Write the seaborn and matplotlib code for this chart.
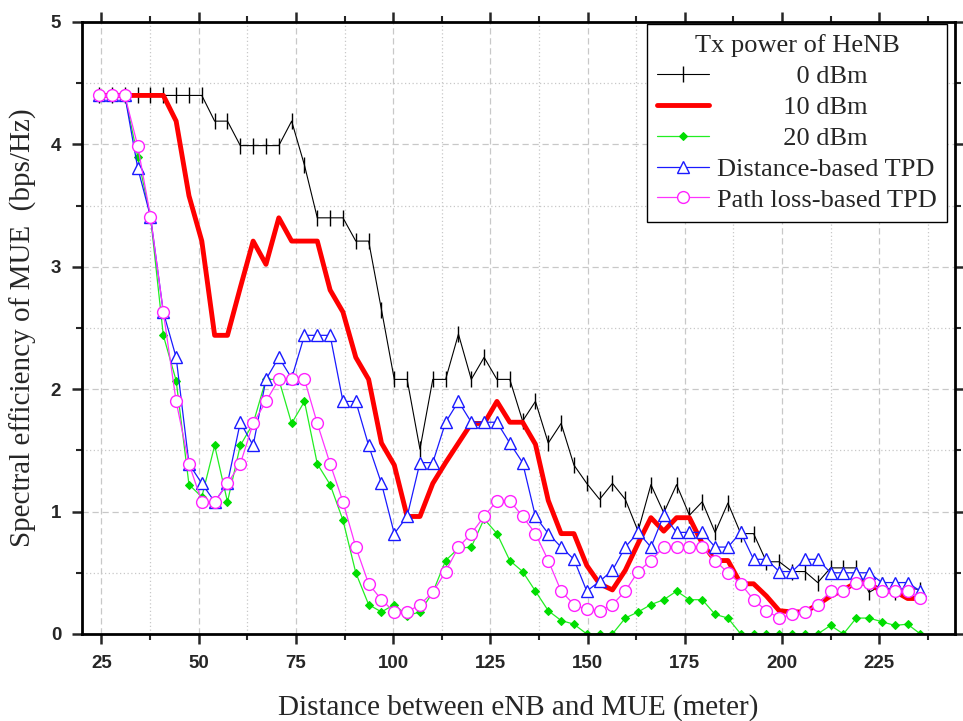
import matplotlib
matplotlib.use("Agg")
import matplotlib.pyplot as plt
import seaborn as sns
import pandas as pd
from matplotlib.ticker import MultipleLocator

distance = [24.4, 27.7, 31.0, 34.3, 37.6, 40.9, 44.2, 47.5, 50.8, 54.1,
            57.4, 60.7, 64.0, 67.3, 70.6, 73.9, 77.2, 80.5, 83.8, 87.1,
            90.4, 93.7, 97.0, 100.3, 103.6, 106.9, 110.2, 113.5, 116.8, 120.1,
            123.4, 126.7, 130.0, 133.3, 136.6, 139.9, 143.2, 146.5, 149.8, 153.1,
            156.4, 159.7, 163.0, 166.3, 169.6, 172.9, 176.2, 179.5, 182.8, 186.1,
            189.4, 192.7, 196.0, 199.3, 202.6, 205.9, 209.2, 212.5, 215.8, 219.1,
            222.4, 225.7, 229.0, 232.3, 235.6]

se_0dbm = [4.4, 4.4, 4.4, 4.4, 4.4, 4.4, 4.4, 4.4, 4.4, 4.19,
           4.19, 3.99, 3.99, 3.99, 3.99, 4.19, 3.83, 3.40, 3.40, 3.40,
           3.21, 3.21, 2.65, 2.08, 2.08, 1.51, 2.08, 2.08, 2.45, 2.08,
           2.26, 2.08, 2.08, 1.74, 1.90, 1.56, 1.72, 1.38, 1.23, 1.10,
           1.23, 1.10, 0.84, 1.22, 0.99, 1.22, 0.97, 1.08, 0.83, 1.07,
           0.82, 0.82, 0.59, 0.59, 0.51, 0.51, 0.42, 0.54, 0.54, 0.54,
           0.34, 0.40, 0.34, 0.38, 0.36]

se_10dbm = [4.4, 4.4, 4.4, 4.4, 4.4, 4.4, 4.19, 3.58, 3.21, 2.44,
            2.44, 2.83, 3.21, 3.02, 3.40, 3.21, 3.21, 3.21, 2.81, 2.63,
            2.26, 2.08, 1.56, 1.38, 0.96, 0.96, 1.23, 1.40, 1.56, 1.72,
            1.72, 1.90, 1.73, 1.73, 1.55, 1.09, 0.82, 0.82, 0.56, 0.41,
            0.36, 0.52, 0.74, 0.95, 0.84, 0.95, 0.95, 0.74, 0.60, 0.60,
            0.41, 0.41, 0.31, 0.19, 0.18, 0.18, 0.24, 0.31, 0.36, 0.42,
            0.41, 0.35, 0.35, 0.29, 0.29]

se_20dbm = [4.4, 4.4, 4.4, 3.9, 3.41, 2.44, 2.07, 1.22, 1.12, 1.54,
            1.08, 1.54, 1.72, 2.08, 2.08, 1.72, 1.90, 1.39, 1.22, 0.93,
            0.50, 0.24, 0.18, 0.24, 0.15, 0.18, 0.34, 0.60, 0.70, 0.71,
            0.94, 0.82, 0.60, 0.51, 0.35, 0.19, 0.11, 0.08, 0.0, 0.0,
            0.0, 0.13, 0.18, 0.24, 0.28, 0.35, 0.28, 0.28, 0.16, 0.13,
            0.0, 0.0, 0.0, 0.0, 0.0, 0.0, 0.0, 0.07, 0.0, 0.13,
            0.13, 0.10, 0.07, 0.08, 0.0]

se_distance_tpd = [4.4, 4.4, 4.4, 3.81, 3.41, 2.63, 2.26, 1.39, 1.23, 1.08,
                   1.23, 1.73, 1.54, 2.08, 2.26, 2.09, 2.44, 2.44, 2.44, 1.90,
                   1.90, 1.54, 1.23, 0.82, 0.96, 1.40, 1.40, 1.73, 1.90, 1.73,
                   1.73, 1.73, 1.56, 1.40, 0.96, 0.82, 0.71, 0.61, 0.35, 0.43,
                   0.52, 0.71, 0.83, 0.71, 0.97, 0.83, 0.83, 0.83, 0.71, 0.71,
                   0.83, 0.61, 0.61, 0.51, 0.51, 0.61, 0.61, 0.50, 0.50, 0.50,
                   0.50, 0.42, 0.42, 0.42, 0.35]

se_pathloss_tpd = [4.4, 4.4, 4.4, 3.99, 3.41, 2.63, 1.90, 1.39, 1.08, 1.08,
                   1.23, 1.39, 1.72, 1.90, 2.08, 2.08, 2.08, 1.72, 1.39, 1.08,
                   0.71, 0.41, 0.28, 0.18, 0.18, 0.24, 0.34, 0.51, 0.71, 0.82,
                   0.96, 1.09, 1.09, 0.96, 0.82, 0.60, 0.35, 0.24, 0.20, 0.19,
                   0.24, 0.35, 0.51, 0.60, 0.71, 0.71, 0.71, 0.71, 0.60, 0.50,
                   0.41, 0.28, 0.19, 0.13, 0.16, 0.18, 0.24, 0.35, 0.35, 0.42,
                   0.42, 0.35, 0.35, 0.35, 0.29]

labels = ["0 dBm", "10 dBm", "20 dBm", "Distance-based TPD", "Path loss-based TPD"]
legend_title = "Tx power of HeNB"
x_ticks = [25, 50, 75, 100, 125, 150, 175, 200, 225]
y_ticks = [0, 1, 2, 3, 4, 5]

sns.set_theme(style="white")
plt.rcParams["font.family"] = ["Liberation Serif", "DejaVu Serif"]

fig = plt.figure(figsize=(9.63, 7.21), dpi=100)
ax = fig.add_axes([0.0852, 0.1207, 0.9065, 0.8488])

series = [se_0dbm, se_10dbm, se_20dbm, se_distance_tpd, se_pathloss_tpd]
styles = [
    dict(color="black", linewidth=0.8, marker="|", markersize=12, markeredgewidth=1.0,
         markeredgecolor="black"),
    dict(color="#ff0000", linewidth=3.5),
    dict(color="#22ee22", linewidth=0.9, marker="D", markersize=4.5,
         markerfacecolor="#00dd00", markeredgecolor="#00dd00"),
    dict(color="#1a1aff", linewidth=0.9, marker="^", markersize=8.5,
         markerfacecolor="white", markeredgecolor="#1a1aff", markeredgewidth=1.0),
    dict(color="#ff33ff", linewidth=0.9, marker="o", markersize=8.5,
         markerfacecolor="white", markeredgecolor="#ff22ff", markeredgewidth=1.0),
]
pads = ["            ", "          ", "          ", "", ""]

for vals, lab, st, pad in zip(series, labels, styles, pads):
    df = pd.DataFrame({"d": distance, "se": vals})
    sns.lineplot(data=df, x="d", y="se", ax=ax, label=pad + lab, sort=False,
                 estimator=None, **st)

ax.set_xlim(20, 244.5)
ax.set_ylim(0, 5)
ax.xaxis.set_major_locator(MultipleLocator(25))
ax.xaxis.set_minor_locator(MultipleLocator(12.5))
ax.yaxis.set_major_locator(MultipleLocator(1))
ax.yaxis.set_minor_locator(MultipleLocator(0.5))
ax.set_xticks(x_ticks)
ax.set_yticks(y_ticks)

ax.grid(True, which="major", color="#c8c8c8", linestyle=(0, (5, 3)), linewidth=0.9)
ax.grid(True, which="minor", color="#c8c8c8", linestyle=(0, (1, 2)), linewidth=0.9)
ax.set_axisbelow(True)

for s in ax.spines.values():
    s.set_linewidth(2.0)
    s.set_color("black")

ax.tick_params(axis="both", which="major", direction="out", length=7, width=1.8,
               top=True, right=True, bottom=True, left=True, pad=8)
ax.tick_params(axis="both", which="minor", direction="out", length=4, width=1.5,
               top=True, right=True, bottom=True, left=True)
for t in ax.get_xticklabels() + ax.get_yticklabels():
    t.set_family(["Liberation Sans", "DejaVu Sans"])
    t.set_fontweight("bold")
    t.set_fontsize(13.5)

ax.set_xlabel("Distance between eNB and MUE (meter)", fontsize=21, labelpad=16)
ax.set_ylabel("Spectral efficiency of MUE  (bps/Hz)", fontsize=21, labelpad=10)

leg = ax.legend(title=legend_title, loc="upper right", bbox_to_anchor=(0.991, 0.997),
                borderaxespad=0, fontsize=19, title_fontsize=19, frameon=True,
                fancybox=False, edgecolor="black", framealpha=1, handlelength=1.95,
                labelspacing=0.28, borderpad=0.4, handletextpad=0.3)
leg.get_frame().set_linewidth(1.0)

fig.savefig("out.png", dpi=100)
